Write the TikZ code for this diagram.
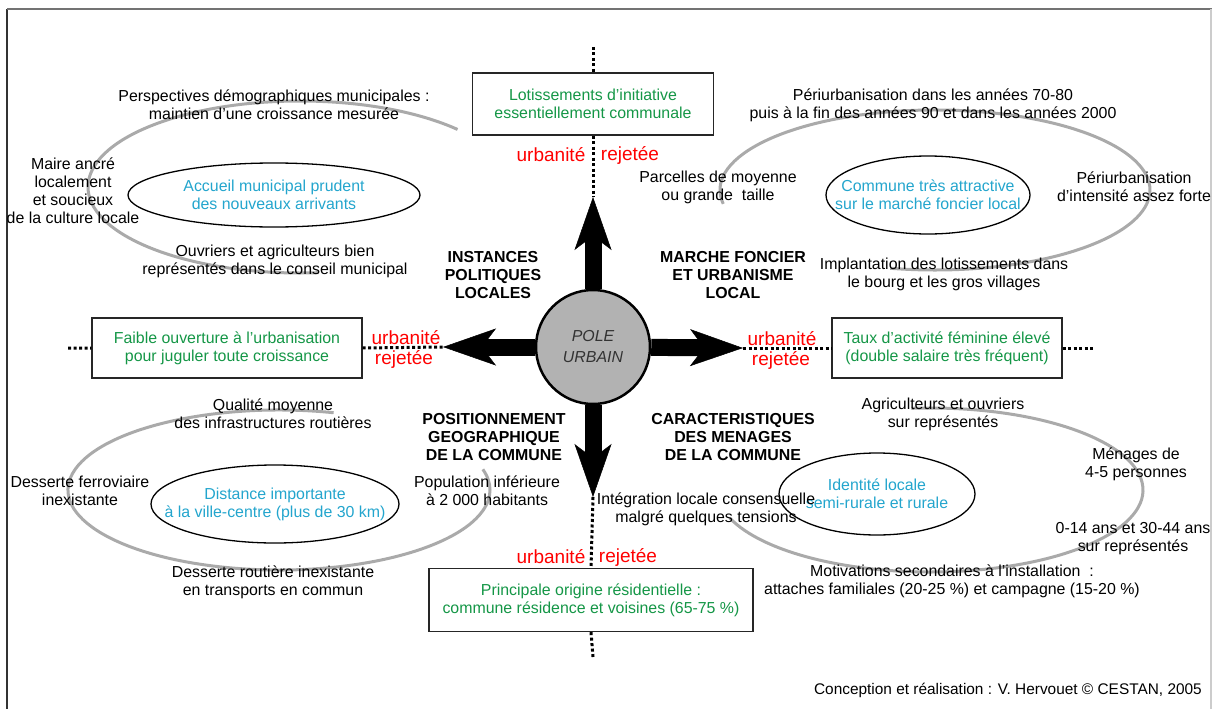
\documentclass[tikz,border=0pt]{standalone}
\usepackage{fontspec}
\setmainfont{Liberation Sans}
\usetikzlibrary{arrows.meta,positioning,calc,shapes.geometric}
\definecolor{vert}{RGB}{20,150,70}
\definecolor{bleu}{RGB}{35,165,205}
\definecolor{rouge}{RGB}{255,0,0}
\definecolor{anneaugris}{RGB}{170,170,170}
\definecolor{polegris}{RGB}{178,178,178}

\begin{document}
\begin{tikzpicture}[x=1pt,y=-1pt,font=\fontsize{15.9}{18}\selectfont,
   lbl/.style={align=center,inner sep=0pt},
   cat/.style={align=center,inner sep=0pt,font=\fontsize{15.9}{18}\selectfont\bfseries},
   rej/.style={inner sep=0pt,text=rouge,font=\fontsize{19}{21}\selectfont},
   cadre/.style={draw=black!85,line width=1.3pt,text=vert,align=center},
   bulle/.style={ellipse,draw,line width=1.3pt,inner sep=0pt},
   anneau/.style={draw=anneaugris,line width=3pt},
   fleche/.style={line width=17pt,-{Stealth[length=53pt,width=37pt,inset=14pt,line width=0.5pt]}},
   pointille/.style={line width=3pt,dash pattern=on 3pt off 2.5pt}]
  \useasboundingbox (0,0) rectangle (1212,709);
  % frame
  \draw[line width=2pt,black!80] (7,709) -- (7,9);
  \draw[line width=2.5pt,black!55] (7,9) -- (1212,9);
  \draw[line width=1.5pt,black!20] (1211,9) -- (1211,709);

  % centre and arrows
  \node[circle,draw,line width=2.5pt,fill=polegris,minimum size=114pt,align=center,
        font=\fontsize{15.9}{21}\selectfont\itshape,text=black!80] (pole) at (593,347) {POLE\\URBAIN};
  \coordinate (tN) at (593,197);
  \coordinate (tS) at (593,497);
  \coordinate (tW) at (443,347);
  \coordinate (tE) at (743,348);
  \foreach \t in {tN,tS,tW,tE} \draw[fleche] (pole) -- (\t);

  % boxes on the axes
  \node[cadre,minimum width=241pt,minimum height=62pt] (bN) at (593,104)
     {Lotissements d'initiative\\essentiellement communale};
  \node[cadre,minimum width=270pt,minimum height=60pt] (bW) at (227,348)
     {Faible ouverture à l'urbanisation\\pour juguler toute croissance};
  \node[cadre,minimum width=230pt,minimum height=60pt] (bE) at (947,348)
     {Taux d'activité féminine élevé\\(double salaire très fréquent)};
  \node[cadre,minimum width=324pt,minimum height=63pt] (bS) at (591,600)
     {Principale origine résidentielle :\\commune résidence et voisines (65-75 \%)};
  \coordinate (fN) at (593,47);
  \coordinate (fW) at (68,348);
  \coordinate (fE) at (1095,348);
  \coordinate (fS) at (593,657);
  \draw[pointille] (fN) -- (bN.north) (bN.south) -- (tN);
  \draw[pointille] (fW) -- (bW.west) (bW.east) -- (tW);
  \draw[pointille] (tE) -- (bE.west) (bE.east) -- (fE);
  \draw[pointille] (tS) -- (bS.north) (bS.south) -- (fS);
  \node[rej] (rN1) at (551,155) {urbanité};
  \node[rej] (rN2) at (630,155) {rejetée};
  \node[rej] (rW1) at (406,338) {urbanité};
  \node[rej] (rW2) at (404,359) {rejetée};
  \node[rej] (rE1) at (782,339) {urbanité};
  \node[rej] (rE2) at (781,360) {rejetée};
  \node[rej] (rS1) at (551,557) {urbanité};
  \node[rej] (rS2) at (628,557) {rejetée};

  % rings
  \coordinate (cHG) at (300,187);
  \coordinate (cHD) at (935,190);
  \coordinate (cBG) at (279,490);
  \coordinate (cBD) at (930,490);
  \draw[anneau] (cHG) ++(42:212pt and 86pt) arc[start angle=42,end angle=275,x radius=212pt,y radius=86pt];
  \draw[anneau] (cHD) ++(190:215pt and 80pt) arc[start angle=190,end angle=-102,x radius=215pt,y radius=80pt];
  \draw[anneau] (cBG) ++(75:211pt and 80pt) arc[start angle=75,end angle=375,x radius=211pt,y radius=80pt];
  \draw[anneau] (cBD) ++(95:213pt and 82pt) arc[start angle=95,end angle=-160,x radius=213pt,y radius=82pt];

  % ellipses
  \node[bulle,minimum width=292pt,minimum height=64pt] (eHG) at (274,195) {};
  \node[bulle,minimum width=204pt,minimum height=78pt] (eHD) at (928,195) {};
  \node[bulle,minimum width=248pt,minimum height=78pt] (eBG) at (275,504) {};
  \node[bulle,minimum width=196pt,minimum height=82pt] (eBD) at (877,494) {};
  \node[lbl,text=bleu] (tHG) at (eHG) {Accueil municipal prudent\\des nouveaux arrivants};
  \node[lbl,text=bleu] (tHD) at (eHD) {Commune très attractive\\sur le marché foncier local};
  \node[lbl,text=bleu] (tBG) at (eBG) {Distance importante\\à la ville-centre (plus de 30 km)};
  \node[lbl,text=bleu] (tBD) at (eBD) {Identité locale\\semi-rurale et rurale};

  % instances politiques locales
  \node[lbl] (hg1) at (274,105) {Perspectives démographiques municipales :\\maintien d'une croissance mesurée};
  \node[lbl] (hg2) at (73,191) {Maire ancré\\localement\\et soucieux\\de la culture locale};
  \node[lbl] (hg3) at (275,261) {Ouvriers et agriculteurs bien\\représentés dans le conseil municipal};
  \node[cat] (kHG) at (493,275) {INSTANCES\\POLITIQUES\\LOCALES};

  % marche foncier
  \node[lbl] (hd1) at (933,105) {Périurbanisation dans les années 70-80\\puis à la fin des années 90 et dans les années 2000};
  \node[lbl] (hd2) at (718,187) {Parcelles de moyenne\\ou grande\ \ taille};
  \node[lbl] (hd3) at (1134,187) {Périurbanisation\\d'intensité assez forte};
  \node[lbl] (hd4) at (944,274) {Implantation des lotissements dans\\le bourg et les gros villages};
  \node[cat] (kHD) at (733,275) {MARCHE FONCIER\\ET URBANISME\\LOCAL};

  % positionnement
  \node[lbl] (bg1) at (273,414) {Qualité moyenne\\des infrastructures routières};
  \node[lbl] (bg2) at (80,491) {Desserte ferroviaire\\inexistante};
  \node[lbl] (bg3) at (487,491) {Population inférieure\\à 2~000 habitants};
  \node[lbl] (bg4) at (273,582) {Desserte routière inexistante\\en transports en commun};
  \node[cat] (kBG) at (494,437) {POSITIONNEMENT\\GEOGRAPHIQUE\\DE LA COMMUNE};

  % menages
  \node[lbl] (bd1) at (943,414) {Agriculteurs et ouvriers\\sur représentés};
  \node[lbl] (bd2) at (1136,464) {Ménages de\\4-5 personnes};
  \node[lbl] (bd3) at (706,509) {Intégration locale consensuelle\\malgré quelques tensions};
  \node[lbl] (bd4) at (1133,539) {0-14 ans et 30-44 ans\\sur représentés};
  \node[lbl] (bd5) at (952,581) {Motivations secondaires à l'installation\ \ :\\attaches familiales (20-25 \%) et campagne (15-20 \%)};
  \node[cat] (kBD) at (733,437) {CARACTERISTIQUES\\DES MENAGES\\DE LA COMMUNE};

  \node[lbl,anchor=east,font=\fontsize{15.4}{18}\selectfont] (credit) at (1202,690) {Conception et réalisation : V. Hervouet © CESTAN, 2005};
\end{tikzpicture}
\end{document}
